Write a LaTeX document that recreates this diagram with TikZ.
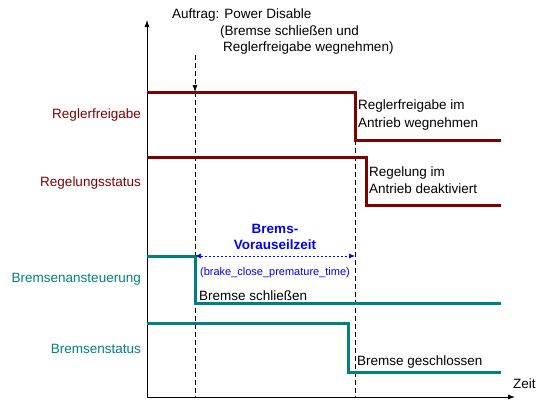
\documentclass[tikz,border=0pt]{standalone}
\usepackage{fontspec}
\setmainfont{Liberation Sans}
\usetikzlibrary{arrows.meta}
\definecolor{regred}{HTML}{800000}
\definecolor{brteal}{HTML}{008080}
\definecolor{hintblue}{HTML}{0000FF}

\begin{document}
\begin{tikzpicture}[x=1pt, y=-1pt,
      every node/.style={font=\fontsize{13.5}{17.5}\selectfont, inner sep=1pt},
      lbl/.style={anchor=east},
      note/.style={anchor=west, align=left},
      sigred/.style={draw=regred, line width=3pt},
      sigteal/.style={draw=brteal, line width=3pt},
      axis/.style={line width=0.8pt, -{Latex[length=7pt,width=5pt]}},
      tmark/.style={dash pattern=on 5pt off 3pt, line width=0.7pt},
      span/.style={draw=hintblue, line width=0.7pt, dash pattern=on 2pt off 2pt,
        {Latex[length=6pt,width=5pt]}-{Latex[length=6pt,width=5pt]}}]
    \useasboundingbox (0,0) rectangle (551,410);
    % axes
    \coordinate (o) at (147,397);
    \coordinate (ytop) at (147,20);
    \coordinate (xend) at (515,397);
    \draw[axis] (o) -- (ytop);
    \draw[axis] (o) -- (xend);
    \node[anchor=west] (zeit) at (512,384) {Zeit};
    % signal names
    \node[lbl, text=regred] (rf) at (142,115) {Reglerfreigabe};
    \node[lbl, text=regred] (rs) at (142,183) {Regelungsstatus};
    \node[lbl, text=brteal] (ba) at (142,279) {Bremsenansteuerung};
    \node[lbl, text=brteal] (bs) at (142,349) {Bremsenstatus};
    % command
    \node[note] (cmd) at (171,15) {Auftrag: Power Disable};
    \node[note] (cmd2) at (219,32) {(Bremse schließen und};
    \node[note] (cmd3) at (222,48) {Reglerfreigabe wegnehmen)};
    % time marks
    \coordinate (t1) at (195,55);
    \coordinate (t1a) at (195,92);
    \coordinate (t1b) at (195,397);
    \coordinate (t2) at (355,140);
    \coordinate (t2b) at (355,397);
    \draw[tmark, -{Latex[length=7pt,width=5pt]}] (t1) -- (t1a);
    \draw[tmark] (t1a) -- (t1b);
    \draw[tmark] (t2) -- (t2b);
    % signals
    \draw[sigred] (147,92) -- (355,92) -- (355,140) -- (501,140);
    \draw[sigred] (147,157) -- (366,157) -- (366,205) -- (501,205);
    \draw[sigteal] (147,256) -- (195,256) -- (195,303) -- (501,303);
    \draw[sigteal] (147,323) -- (348,323) -- (348,372) -- (501,372);
    % annotations
    \node[note] (n1) at (357,115) {Reglerfreigabe im\\Antrieb wegnehmen};
    \node[note] (n2) at (368,180) {Regelung im\\Antrieb deaktiviert};
    \node[note] (n3) at (198,296) {Bremse schließen};
    \node[note] (n4) at (356,362) {Bremse geschlossen};
    % lead time
    \coordinate (s1) at (195,256);
    \coordinate (s2) at (355,256);
    \draw[span] (s1) -- (s2);
    \node[align=center, text=hintblue, font=\fontsize{13.5}{16}\selectfont\bfseries] (lead) at (275,237) {Brems-\\Vorauseilzeit};
    \node[text=hintblue, font=\fontsize{11}{13}\selectfont] (param) at (275,273) {(brake\_close\_premature\_time)};
  \end{tikzpicture}
\end{document}
